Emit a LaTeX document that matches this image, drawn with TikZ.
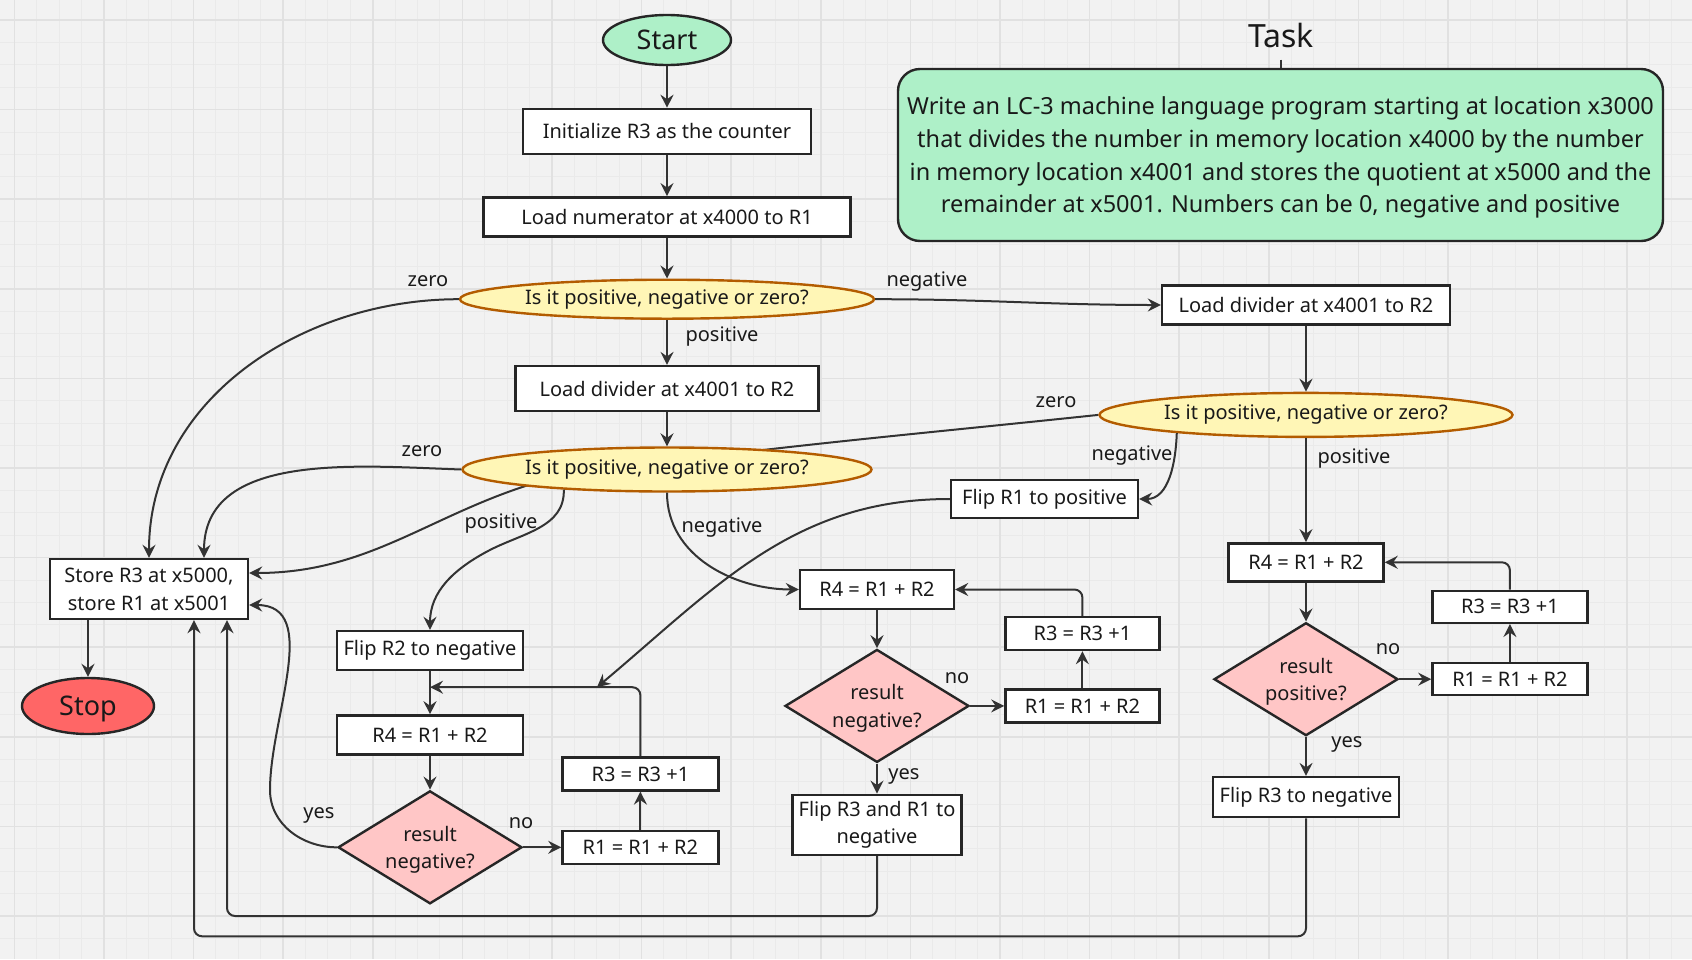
\documentclass[tikz,border=0pt]{standalone}
\usepackage{fontspec}
\setmainfont{Noto Sans}
\usetikzlibrary{positioning,shapes.geometric,arrows.meta}
\definecolor{mint}{HTML}{AEF0C8}
\definecolor{stopred}{HTML}{FF6666}
\definecolor{askfill}{HTML}{FFF6B6}
\definecolor{askline}{HTML}{B35C00}
\definecolor{chkfill}{HTML}{FFC6C6}
\definecolor{ink}{HTML}{333333}
\definecolor{paper}{HTML}{F2F2F2}
\definecolor{gridmin}{HTML}{EAEAEA}
\definecolor{gridmaj}{HTML}{E1E1E1}
\pgfdeclarelayer{back}
\pgfsetlayers{back,main}

\begin{document}
\begin{tikzpicture}[x=1pt, y=1pt,
      nodes={text=black!90, inner sep=0pt, font=\fontsize{20}{27.5}\selectfont},
      sz/.style 2 args={minimum width=#1pt, minimum height=#2pt},
      box/.style={rectangle, draw=black!85, line width=2.4pt, fill=white, align=center},
      term/.style={ellipse, draw=black!85, line width=2.4pt, text depth=0pt,
                   font=\fontsize{27}{30}\selectfont},
      ask/.style={ellipse, draw=askline, line width=2.4pt, fill=askfill},
      chk/.style={diamond, draw=black!85, line width=2.4pt, fill=chkfill, align=center,
                  aspect=1.6, text depth=0pt},
      lab/.style={font=\fontsize{20}{24}\selectfont, text height=10.7pt, text depth=0pt},
      conn/.style={draw=ink, line width=2pt, >={Stealth[length=13pt,width=13pt,inset=4.5pt]}}
      ]

  \useasboundingbox (0,0) rectangle (1692,-959);
  \begin{pgfonlayer}{back}
    \fill[paper] (0,0) rectangle (1692,-959);
    \foreach \i in {0,...,75} \draw[gridmin, line width=1pt] ({-8.1+\i*22.4},0) -- ++(0,-959);
    \foreach \i in {0,...,43} \draw[gridmin, line width=1pt] (0,{2.4-\i*22.4}) -- ++(1692,0);
    \foreach \i in {0,...,18} \draw[gridmaj, line width=1.6pt] ({14.3+\i*89.6},0) -- ++(0,-959);
    \foreach \i in {0,...,10} \draw[gridmaj, line width=1.6pt] (0,{-20-\i*89.6}) -- ++(1692,0);
  \end{pgfonlayer}

  % main column
  \node[term, fill=mint, sz={128}{50}] (start) at (667,-40) {Start};
  \node[box, sz={288}{45}, below=41.5pt of start] (init) {Initialize R3 as the counter};
  \node[box, sz={367}{39}, below=41pt of init] (num) {Load numerator at x4000 to R1};
  \node[ask, sz={414}{39}, below=41pt of num] (q1) {Is it positive, negative or zero?};
  \node[box, sz={303}{45}, below=45pt of q1] (div) {Load divider at x4001 to R2};
  \node[ask, sz={409}{44}, below=34pt of div] (q2) {Is it positive, negative or zero?};

  % negative numerator
  \node[box, sz={288}{39}] (divr) at (1306,-305) {Load divider at x4001 to R2};
  \node[ask, sz={413}{44}, below=66pt of divr] (q3) {Is it positive, negative or zero?};
  \node[box, sz={187}{38}] (flip1) at (1044.5,-499) {Flip R1 to positive};

  % end
  \node[box, sz={198}{60}, text depth=0pt] (store) at (149,-589) {Store R3 at x5000,\\store R1 at x5001};
  \node[term, fill=stopred, sz={132}{56}] (stop) at (88,-706) {Stop};

  % both positive
  \node[box, sz={186}{39}] (flip2) at (430,-650.5) {Flip R2 to negative};
  \node[box, sz={186}{39}, below=43pt of flip2] (r4a) {R4 = R1 + R2};
  \node[chk, sz={184}{113}, below=34pt of r4a] (d1) {result\\negative?};
  \node[box, sz={156}{33}, right=38pt of d1] (r1a) {R1 = R1 + R2};
  \node[box, sz={156}{33}, above=38pt of r1a] (r3a) {R3 = R3 +1};

  % numerator positive, divider negative
  \node[box, sz={154}{39}] (r4b) at (877,-589.5) {R4 = R1 + R2};
  \node[chk, sz={184}{113}, below=38pt of r4b] (d2) {result\\negative?};
  \node[box, sz={169}{60}, below=30pt of d2] (flip3) {Flip R3 and R1 to\\negative};
  \node[box, sz={154}{33}, right=34pt of d2] (r1b) {R1 = R1 + R2};
  \node[box, sz={154}{33}, above=37pt of r1b] (r3b) {R3 = R3 +1};

  % both negative
  \node[box, sz={155}{38}, below=104pt of q3] (r4c) {R4 = R1 + R2};
  \node[chk, sz={184}{113}, below=39pt of r4c] (d3) {result\\positive?};
  \node[box, sz={186}{40}, below=39pt of d3] (flip4) {Flip R3 to negative};
  \node[box, sz={155}{32}, right=32pt of d3] (r1c) {R1 = R1 + R2};
  \node[box, sz={155}{32}, above=38pt of r1c] (r3c) {R3 = R3 +1};

  % task
  \node[font=\fontsize{32}{36}\selectfont, inner ysep=12pt] (title) at (1281,-35) {Task};
  \node[box, fill=mint, rounded corners=22pt, sz={765}{172},
        font=\fontsize{23.5}{32.6}\selectfont] (task) at (1280.5,-155)
       {\rule{0pt}{23.3pt}Write an LC-3 machine language program starting at location x3000\\
        that divides the number in memory location x4000 by the number\\
        in memory location x4001 and stores the quotient at x5000 and the\\
        remainder at x5001. Numbers can be 0, negative and positive};

  % labels
  \node[lab] (z1) at (428,-281) {zero};
  \node[lab] (n1) at (927,-281) {negative};
  \node[lab] (p1) at (722,-336) {positive};
  \node[lab] (z2) at (422,-451) {zero};
  \node[lab] (z3) at (1056,-402) {zero};
  \node[lab] (n3) at (1132,-455) {negative};
  \node[lab] (p3) at (1354,-458) {positive};
  \node[lab] (p2) at (501,-523) {positive};
  \node[lab] (n2) at (722,-527) {negative};
  \node[lab] (y1) at (319,-813) {yes};
  \node[lab] (o1) at (521,-823) {no};
  \node[lab] (o2) at (957,-678) {no};
  \node[lab] (y2) at (904,-774) {yes};
  \node[lab] (o3) at (1388,-649) {no};
  \node[lab] (y3) at (1347,-742) {yes};

  \coordinate (via) at (560,-476);
  \coordinate (pz) at (488,-551);
  \coordinate (yv) at (270,-790);
  \coordinate (lp1) at ([yshift=27pt]r4a.north);
  \coordinate (jn) at ([xshift=167pt]lp1);

  % Connect the nodes
  \draw[conn,->] (start) -- (init);
  \draw[conn,->] (init) -- (num);
  \draw[conn,->] (num) -- (q1);
  \draw[conn,->] (q1) -- (div);
  \draw[conn,->] (div) -- (q2);
  \draw[conn,->] (q1.east) to[out=0,in=180] (divr.west);
  \draw[conn,->] (q1.west) to[out=180,in=90] (store.north);
  \draw[conn,->] (q2.west) to[out=178,in=90] ([xshift=55pt]store.north);
  \begin{pgfonlayer}{back}
    \draw[conn,->] (q3.west) to[out=186,in=8] (via) to[out=194,in=0] ([yshift=16pt]store.east);
  \end{pgfonlayer}
  \draw[conn,->] (q2.191) to[out=-88,in=28] (pz) to[out=208,in=90] (flip2.north);
  \draw[conn,->] (q2.south) to[out=-90,in=180] (r4b.west);
  \draw[conn,->] (divr) -- (q3);
  \draw[conn,->] (q3.south) -- (r4c.north);
  \draw[conn,->] (q3.188) to[out=-92,in=0] (flip1.east);
  \draw[conn,->] (flip1.west) to[out=180,in=40] (jn);
  \draw[conn,->] (store.south -| stop.north) -- (stop.north);

  \draw[conn,->] (flip2) -- (r4a);
  \draw[conn,->] (r4a) -- (d1);
  \draw[conn,->] (d1.east) -- (r1a.west |- d1.east);
  \draw[conn,->] (r1a) -- (r3a);
  \draw[conn,->, rounded corners=8pt] (r3a.north) |- (lp1);
  \draw[conn,->] (d1.west) to[out=180,in=-90] (yv) to[out=90,in=0] ([yshift=-16pt]store.east);

  \draw[conn,->] (r4b) -- (d2);
  \draw[conn,->] (d2.east) -- (r1b.west |- d2.east);
  \draw[conn,->] (r1b) -- (r3b);
  \draw[conn,->, rounded corners=8pt] (r3b.north) |- (r4b.east);
  \draw[conn,->] (d2) -- (flip3);
  \draw[conn,->, rounded corners=8pt] (flip3.south) -- ++(0,-60) -| ([xshift=78pt]store.south);

  \draw[conn,->] (r4c) -- (d3);
  \draw[conn,->] (d3.east) -- (r1c.west |- d3.east);
  \draw[conn,->] (r1c) -- (r3c);
  \draw[conn,->, rounded corners=8pt] (r3c.north) |- (r4c.east);
  \draw[conn,->] (d3) -- (flip4);
  \draw[conn,->, rounded corners=8pt] (flip4.south) -- ++(0,-118) -| ([xshift=45pt]store.south);

  \draw[conn, line width=1.2pt] (title.south) -- (title.south |- task.north);

\end{tikzpicture}
\end{document}
